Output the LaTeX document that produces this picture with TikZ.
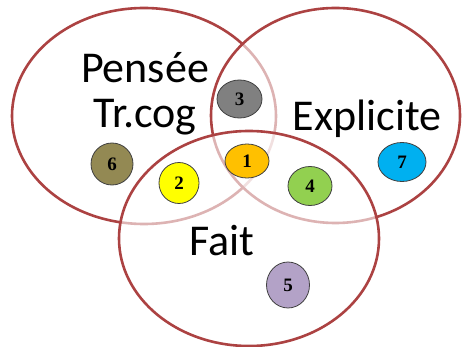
\documentclass[tikz,border=0pt]{standalone}
\usepackage{fontspec}
\setmainfont{Carlito}
\newfontfamily\numfont{Liberation Serif}
\usetikzlibrary{shapes.geometric}
\definecolor{ringred}{RGB}{172,66,66}
\definecolor{cgray}{RGB}{128,128,128}
\definecolor{corange}{RGB}{255,192,0}
\definecolor{cgreen}{RGB}{146,208,80}
\definecolor{colive}{RGB}{147,137,83}
\definecolor{cyellow}{RGB}{255,255,0}
\definecolor{cblue}{RGB}{0,176,240}
\definecolor{clav}{RGB}{179,162,199}
\tikzset{
  bigset/.style={ellipse, draw=ringred, line width=2.6pt, fill=white, fill opacity=0.6, text opacity=1, inner sep=0pt},
  setlabel/.style={anchor=base, inner sep=0pt, font=\fontsize{44}{50}\selectfont},
  dot/.style={ellipse, draw=black!75, line width=0.8pt, inner sep=0pt, font=\numfont\bfseries\fontsize{19}{19}\selectfont}
}
\begin{document}
\begin{tikzpicture}[x=1pt,y=-1pt]
\useasboundingbox (0,0) rectangle (462,347);
\node[bigset, minimum width=264pt, minimum height=216pt] (pensee) at (144,116) {};
\node[bigset, minimum width=249pt, minimum height=215pt] (explicite) at (335.5,115.5) {};
\node[bigset, minimum width=260pt, minimum height=215pt] (fait) at (249,238.5) {};
\node[setlabel] (tpensee) at (145,83) {Pensée};
\node[setlabel] (ttrcog) at (145,128) {Tr.cog};
\node[setlabel] (texpl) at (367,131) {Explicite};
\node[setlabel] (tfait) at (222,255) {Fait};
\node[dot, fill=cgray, minimum width=45pt, minimum height=38pt] (n3) at (239.5,99) {3};
\node[dot, fill=corange, minimum width=44pt, minimum height=34pt] (n1) at (247,161) {1};
\node[dot, fill=cgreen, minimum width=44pt, minimum height=39pt] (n4) at (310,186) {4};
\node[dot, fill=colive, minimum width=42pt, minimum height=42pt] (n6) at (112,164) {6};
\node[dot, fill=cyellow, minimum width=40pt, minimum height=41pt] (n2) at (179,183) {2};
\node[dot, fill=cblue, minimum width=48pt, minimum height=39pt] (n7) at (402,162) {7};
\node[dot, fill=clav, minimum width=43pt, minimum height=46pt] (n5) at (288,285) {5};
\end{tikzpicture}
\end{document}
